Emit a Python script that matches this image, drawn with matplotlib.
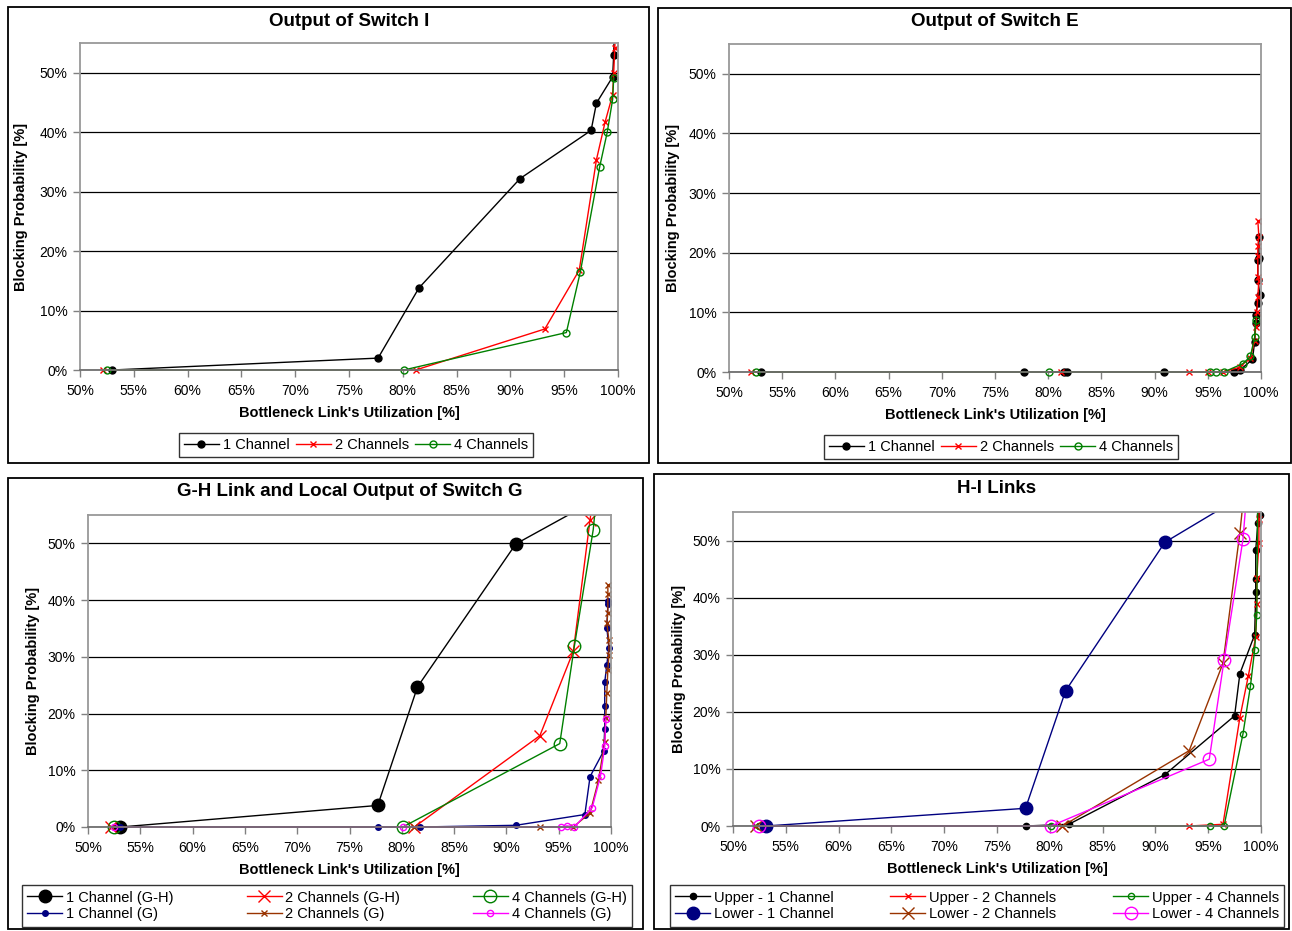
import matplotlib
matplotlib.use("Agg")
import matplotlib.pyplot as plt
from matplotlib.patches import Rectangle
from matplotlib.ticker import FuncFormatter

plt.rcParams['font.family'] = ['Liberation Sans', 'DejaVu Sans']

# ---------------- data ----------------
# Panel 1: Output of Switch I
i_1ch_x = [53.0, 77.7, 81.5, 90.9, 97.5, 98.0, 99.5, 99.6, 99.7]
i_1ch_y = [0.0, 2.0, 13.8, 32.2, 40.3, 44.9, 49.3, 53.0, 60.0]
i_2ch_x = [52.1, 81.2, 93.2, 96.4, 98.0, 98.8, 99.5, 99.6, 99.7, 99.8]
i_2ch_y = [0.0, 0.0, 6.9, 16.8, 35.4, 41.7, 46.3, 50.0, 54.1, 60.0]
i_4ch_x = [52.5, 80.1, 95.2, 96.5, 98.3, 99.0, 99.5, 99.6]
i_4ch_y = [0.0, 0.0, 6.3, 16.5, 34.2, 40.0, 45.5, 49.1]

# Panel 2: Output of Switch E
e_1ch_x = [53.0, 77.7, 81.5, 81.8, 90.9, 97.5, 98.0, 99.2, 99.4, 99.5, 99.5, 99.7, 99.9, 99.7, 99.7, 99.8, 99.8]
e_1ch_y = [0.0, 0.0, 0.0, 0.0, 0.0, 0.0, 0.3, 2.1, 5.1, 8.3, 9.6, 11.6, 12.9, 15.4, 18.8, 19.1, 22.6]
e_2ch_x = [52.1, 81.2, 93.2, 95.0, 96.4, 98.0, 99.0, 99.4, 99.5, 99.6, 99.7, 99.8, 99.7, 99.7, 99.7, 99.8, 99.7]
e_2ch_y = [0.0, 0.0, 0.0, 0.0, 0.0, 0.8, 2.4, 5.2, 7.5, 10.0, 12.6, 15.3, 16.0, 19.4, 21.2, 22.7, 25.4]
e_4ch_x = [52.5, 80.1, 95.2, 95.8, 96.5, 98.3, 99.0, 99.4, 99.5]
e_4ch_y = [0.0, 0.0, 0.0, 0.0, 0.0, 1.4, 2.6, 5.8, 8.7]

# Panel 3: G-H Link and Local Output of Switch G
gh_1ch_x = [53.1, 77.7, 81.5, 90.9, 97.5]
gh_1ch_y = [0.0, 3.8, 24.7, 49.9, 56.6]
gh_2ch_x = [52.2, 81.2, 93.2, 96.4, 98.0, 98.6]
gh_2ch_y = [0.0, 0.0, 16.1, 31.0, 54.2, 62.0]
gh_4ch_x = [52.5, 80.1, 95.1, 96.5, 98.3, 98.8]
gh_4ch_y = [0.0, 0.0, 14.7, 31.9, 52.4, 62.0]
g_1ch_x = [53.1, 77.7, 81.7, 90.9, 97.5, 98.0, 99.3, 99.4, 99.4, 99.4, 99.6, 99.8, 99.6, 99.7, 99.7]
g_1ch_y = [0.0, 0.0, 0.0, 0.3, 2.2, 8.9, 13.4, 17.3, 21.3, 25.5, 28.6, 31.6, 35.1, 39.3, 39.9]
g_2ch_x = [52.2, 81.2, 93.2, 96.4, 98.0, 98.8, 99.4, 99.5, 99.6, 99.7, 99.8, 99.8, 99.6, 99.7, 99.7, 99.7]
g_2ch_y = [0.0, 0.0, 0.0, 0.0, 2.5, 8.2, 15.0, 19.2, 23.6, 27.7, 30.3, 32.9, 36.0, 37.7, 41.0, 42.6]
g_4ch_x = [52.5, 80.1, 95.2, 95.8, 96.5, 98.2, 99.0, 99.4, 99.5]
g_4ch_y = [0.0, 0.0, 0.0, 0.2, 0.0, 3.4, 9.0, 14.2, 19.0]

# Panel 4: H-I Links
up_1ch_x = [53.0, 77.7, 81.8, 90.9, 97.5, 98.0, 99.4, 99.5, 99.5, 99.5, 99.7, 99.9, 100.0]
up_1ch_y = [0.0, 0.0, 0.3, 9.0, 19.3, 26.7, 33.5, 40.9, 43.2, 48.3, 53.0, 54.4, 60.0]
up_2ch_x = [52.1, 81.2, 93.2, 96.4, 98.0, 98.8, 99.5, 99.6, 99.6, 99.8, 99.8, 99.9]
up_2ch_y = [0.0, 0.0, 0.0, 0.3, 19.0, 26.3, 33.1, 38.8, 43.4, 49.6, 53.7, 60.0]
up_4ch_x = [52.5, 80.1, 95.2, 96.5, 98.3, 99.0, 99.4, 99.6, 99.7]
up_4ch_y = [0.0, 0.0, 0.0, 0.0, 16.2, 24.5, 30.9, 37.0, 60.0]
lo_1ch_x = [53.1, 77.7, 81.5, 90.9, 97.5]
lo_1ch_y = [0.0, 3.1, 23.7, 49.7, 57.0]
lo_2ch_x = [52.2, 81.2, 93.2, 96.4, 98.0, 98.6]
lo_2ch_y = [0.0, 0.0, 13.2, 28.5, 51.4, 62.0]
lo_4ch_x = [52.5, 80.1, 95.1, 96.5, 98.3, 98.8]
lo_4ch_y = [0.0, 0.0, 11.7, 29.0, 50.3, 62.0]

x_ticks = [50, 55, 60, 65, 70, 75, 80, 85, 90, 95, 100]
y_ticks = [0, 10, 20, 30, 40, 50]

BLACK = '#000000'
RED = '#FF0000'
GREEN = '#008000'
NAVY = '#000080'
BROWN = '#993300'
MAGENTA = '#FF00FF'

W, H = 1292, 931
fig = plt.figure(figsize=(W / 100, H / 100), dpi=100)


def px_axes(l, t, r, b):
    return fig.add_axes([l / W, (H - b) / H, (r - l) / W, (b - t) / H])


def panel_box(l, t, r, b):
    fig.patches.append(Rectangle((l / W, (H - b) / H), (r - l) / W, (b - t) / H,
                                 transform=fig.transFigure, fill=False,
                                 edgecolor='black', linewidth=1.3))


def style_axes(ax, title, title_y, ylab_x):
    ax.set_xlim(50, 100)
    ax.set_ylim(0, 55)
    ax.set_xticks(x_ticks)
    ax.set_yticks(y_ticks)
    fmt = FuncFormatter(lambda v, p: f"{int(round(v))}%")
    ax.xaxis.set_major_formatter(fmt)
    ax.yaxis.set_major_formatter(fmt)
    ax.tick_params(axis='both', direction='out', length=5, width=1,
                   color='#808080', labelsize=10)
    ax.tick_params(axis='x', pad=5)
    ax.tick_params(axis='y', pad=4)
    for s in ax.spines.values():
        s.set_color('#999999')
        s.set_linewidth(1.3)
    ax.spines['bottom'].set_color('#707070')
    ax.grid(axis='y', color='black', linewidth=0.9)
    ax.set_axisbelow(True)
    ax.set_xlabel("Bottleneck Link's Utilization [%]", fontsize=10.5,
                  fontweight='bold', labelpad=6)
    ax.set_ylabel("Blocking Probability [%]", fontsize=10.5,
                  fontweight='bold')
    bb = ax.get_position()
    ax.yaxis.set_label_coords(ylab_x / W, (bb.y0 + bb.y1) / 2,
                              transform=fig.transFigure)
    fig.text((bb.x0 + bb.x1) / 2, 1 - title_y / H, title, ha='center',
             va='center', fontsize=13.5, fontweight='bold')


def series(ax, x, y, color, marker, ms, label, mfc=None):
    ln, = ax.plot(x, y, color=color, marker=marker, markersize=ms,
                  linewidth=1.0, label=label,
                  markerfacecolor=(color if mfc is None else mfc),
                  markeredgecolor=color, markeredgewidth=1.0)
    clip = Rectangle((-0.1, -0.1), 1.2, 1.1, transform=ax.transAxes)
    ln.set_clip_path(clip)
    return ln


def legend(ax, cx, cy, colsp, order=None):
    h, l = ax.get_legend_handles_labels()
    if order is not None:
        h = [h[i] for i in order]
        l = [l[i] for i in order]
    lg = ax.legend(h, l, loc='center', bbox_to_anchor=(cx / W, 1 - cy / H),
                   bbox_transform=fig.transFigure, ncol=3, fontsize=10.5,
                   frameon=True, fancybox=False, edgecolor='black',
                   handlelength=2.4, handletextpad=0.25, columnspacing=colsp,
                   borderpad=0.35, labelspacing=0.2)
    lg.get_frame().set_linewidth(1.0)


order = [0, 3, 1, 4, 2, 5]

# Panel 1
panel_box(8, 7, 649, 463)
ax1 = px_axes(80, 43, 618, 370)
style_axes(ax1, "Output of Switch I", 22, 28)
series(ax1, i_1ch_x, i_1ch_y, BLACK, 'o', 5, '1 Channel')
series(ax1, i_2ch_x, i_2ch_y, RED, 'x', 5, '2 Channels')
series(ax1, i_4ch_x, i_4ch_y, GREEN, 'o', 5, '4 Channels', mfc='none')
legend(ax1, 356, 445, 0.45)

# Panel 2
panel_box(658, 8, 1291, 463)
ax2 = px_axes(729, 44, 1261, 372)
style_axes(ax2, "Output of Switch E", 22, 680)
series(ax2, e_1ch_x, e_1ch_y, BLACK, 'o', 5, '1 Channel')
series(ax2, e_2ch_x, e_2ch_y, RED, 'x', 5, '2 Channels')
series(ax2, e_4ch_x, e_4ch_y, GREEN, 'o', 5, '4 Channels', mfc='none')
legend(ax2, 1001, 447, 0.45)

# Panel 3
panel_box(8, 478, 643, 929)
ax3 = px_axes(88, 515, 611, 827)
style_axes(ax3, "G-H Link and Local Output of Switch G", 492, 40)
series(ax3, gh_1ch_x, gh_1ch_y, BLACK, 'o', 9, '1 Channel (G-H)')
series(ax3, gh_2ch_x, gh_2ch_y, RED, 'x', 9, '2 Channels (G-H)')
series(ax3, gh_4ch_x, gh_4ch_y, GREEN, 'o', 9, '4 Channels (G-H)', mfc='none')
series(ax3, g_1ch_x, g_1ch_y, NAVY, 'o', 4, '1 Channel (G)')
series(ax3, g_2ch_x, g_2ch_y, BROWN, 'x', 4.5, '2 Channels (G)')
series(ax3, g_4ch_x, g_4ch_y, MAGENTA, 'o', 4.5, '4 Channels (G)', mfc='none')
legend(ax3, 327, 906, 5.0, order)

# Panel 4
panel_box(654, 474, 1289, 929)
ax4 = px_axes(733, 512, 1261, 826)
style_axes(ax4, "H-I Links", 488, 686)
series(ax4, up_1ch_x, up_1ch_y, BLACK, 'o', 4.5, 'Upper - 1 Channel')
series(ax4, up_2ch_x, up_2ch_y, RED, 'x', 5, 'Upper - 2 Channels')
series(ax4, up_4ch_x, up_4ch_y, GREEN, 'o', 4.5, 'Upper - 4 Channels', mfc='none')
series(ax4, lo_1ch_x, lo_1ch_y, NAVY, 'o', 9, 'Lower - 1 Channel')
series(ax4, lo_2ch_x, lo_2ch_y, BROWN, 'x', 9, 'Lower - 2 Channels')
series(ax4, lo_4ch_x, lo_4ch_y, MAGENTA, 'o', 9, 'Lower - 4 Channels', mfc='none')
legend(ax4, 977, 906, 3.9, order)

fig.savefig("out.png", dpi=100)
